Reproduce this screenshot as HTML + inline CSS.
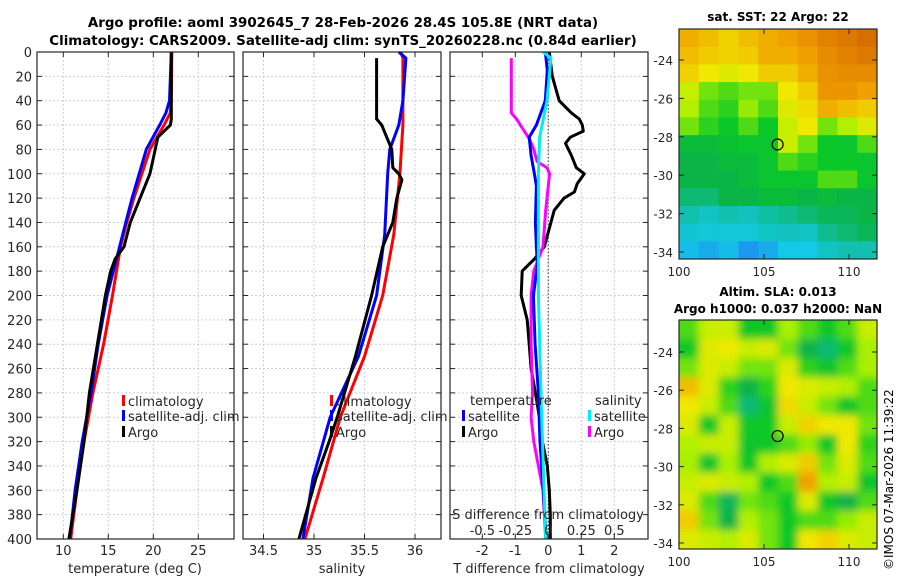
<!DOCTYPE html>
<html><head><meta charset="utf-8"><style>
body{margin:0;background:#fff;}
svg{display:block;font-family:"DejaVu Sans","Liberation Sans",sans-serif;}
</style></head><body>
<svg id="fig" width="900" height="580" viewBox="0 0 900 580">
<defs><filter id="blur" x="0" y="0" width="1" height="1"><feGaussianBlur stdDeviation="4"/></filter>
<clipPath id="clipA"><rect x="679" y="29" width="198" height="230"/></clipPath>
<clipPath id="clipB"><rect x="679" y="320" width="198" height="229"/></clipPath></defs>
<text x="343" y="27" text-anchor="middle" font-size="13.4" font-weight="bold">Argo profile: aoml 3902645_7 28-Feb-2026 28.4S 105.8E (NRT data)</text>
<text x="343" y="45" text-anchor="middle" font-size="13.4" font-weight="bold">Climatology: CARS2009. Satellite-adj clim: synTS_20260228.nc (0.84d earlier)</text>
<text x="778" y="21" text-anchor="middle" font-size="12" font-weight="bold">sat. SST: 22 Argo: 22</text>
<text x="778" y="296" text-anchor="middle" font-size="12" font-weight="bold">Altim. SLA: 0.013</text>
<text x="778" y="313" text-anchor="middle" font-size="12" font-weight="bold">Argo h1000: 0.037 h2000: NaN</text>
<text transform="translate(893,570) rotate(-90)" font-size="12">©IMOS 07-Mar-2026 11:39:22</text>
<g id="content"></g>
</svg>
<script>
// ---- data ----
const depthTicks=[0,20,40,60,80,100,120,140,160,180,200,220,240,260,280,300,320,340,360,380,400];
const tTicks=[10,15,20,25];
const sTicks=[34.5,35,35.5,36];
const dTTicks=[-2,-1,0,1,2];
const dSTicks=[-0.5,-0.25,0,0.25,0.5];
const dSTickLabels=["-0.5","-0.25","0","0.25","0.5"];
const tClimDepth=[0,40,50,60,80,100,120,140,160,200,240,280,320,360,400];
const tClim=[22.05,22.0,21.89,21.2,19.62,18.73,17.84,17.05,16.36,15.47,14.48,13.29,12.3,11.51,10.82];
const tSatDepth=[0,40,50,60,80,100,120,140,160,200,240,280,320,360,400];
const tSat=[22.0,21.8,21.4,20.71,19.22,18.43,17.64,16.95,16.26,14.87,13.88,13.09,12.1,11.31,10.72];
const tArgoDepth=[0,55,60,70,80,90,100,120,140,160,170,180,200,240,280,320,360,400];
const tArgo=[22.0,22.0,21.9,20.51,20.21,19.92,19.62,18.53,17.44,16.75,15.76,15.27,14.68,13.79,12.9,12.3,11.51,10.62];
const sClimDepth=[0,5,60,100,150,200,250,300,350,400];
const sClim=[35.86,35.88,35.88,35.85,35.79,35.68,35.5,35.26,35.09,34.91];
const sSatDepth=[0,5,40,60,80,100,150,200,250,300,350,400];
const sSat=[35.84,35.91,35.88,35.84,35.75,35.73,35.7,35.62,35.44,35.16,34.99,34.89];
const sArgoDepth=[5,55,60,70,80,95,100,105,120,140,160,200,250,300,320,350,400];
const sArgo=[35.62,35.62,35.67,35.72,35.77,35.78,35.84,35.87,35.82,35.78,35.68,35.57,35.41,35.23,35.15,35.02,34.85];
const dTArgoDepth=[0,20,40,50,55,60,65,70,75,85,95,100,108,115,120,130,145,160,170,180,200,220,240,260,280,300,320,340,360,380,400];
const dTArgo=[0.03,0.12,0.33,0.7,0.94,1.03,1.06,0.67,0.52,0.7,0.85,1.09,0.88,0.79,0.48,0.18,0.03,-0.12,-0.42,-0.79,-0.82,-0.64,-0.58,-0.52,-0.39,-0.27,-0.18,-0.03,0.03,0.06,0.06];
const dTSatDepth=[0,15,40,60,70,85,100,110,140,160,175,200,240,280,320,360,400];
const dTSat=[-0.09,-0.03,-0.09,-0.36,-0.58,-0.52,-0.42,-0.36,-0.39,-0.36,-0.33,-0.45,-0.4,-0.3,-0.25,-0.15,-0.06];
const dSArgoDepth=[5,50,55,62,72,80,90,95,100,110,130,160,180,200,240,280,300,320,360,400];
const dSArgo=[-0.28,-0.28,-0.24,-0.2,-0.14,-0.11,-0.085,-0.01,0.01,0,-0.02,-0.04,-0.11,-0.13,-0.13,-0.12,-0.13,-0.11,-0.04,-0.02];
const dSSatDepth=[0,5,40,70,100,200,300,400];
const dSSat=[-0.04,0.02,-0.01,-0.065,-0.075,-0.075,-0.05,-0.02];
const sstGrid=[
[.8,.78,.75,.78,.8,.82,.85,.88,.9,.92],
[.78,.76,.75,.76,.8,.8,.82,.86,.88,.9],
[.75,.72,.7,.72,.76,.76,.8,.85,.86,.86],
[.68,.62,.6,.62,.62,.72,.76,.84,.84,.82],
[.66,.6,.58,.64,.6,.7,.74,.8,.78,.76],
[.62,.58,.56,.6,.56,.68,.72,.62,.66,.7],
[.52,.52,.54,.55,.55,.68,.62,.56,.55,.6],
[.5,.5,.52,.52,.55,.6,.58,.56,.56,.55],
[.5,.5,.5,.52,.55,.55,.55,.6,.6,.55],
[.45,.45,.5,.5,.52,.52,.5,.52,.5,.5],
[.38,.35,.38,.36,.4,.42,.45,.48,.48,.5],
[.33,.32,.32,.32,.35,.36,.35,.42,.45,.48],
[.28,.25,.28,.22,.25,.3,.3,.35,.38,.38]];
const slaGrid=[
[.6,.68,.68,.56,.56,.65,.6,.56,.6,.68],
[.56,.7,.72,.68,.7,.62,.5,.45,.56,.65],
[.62,.7,.68,.62,.62,.7,.58,.55,.6,.65],
[.78,.7,.58,.5,.58,.72,.7,.68,.66,.6],
[.72,.68,.6,.45,.55,.74,.68,.62,.56,.6],
[.7,.56,.68,.56,.56,.68,.75,.72,.72,.62],
[.66,.68,.68,.55,.56,.6,.64,.56,.72,.58],
[.65,.55,.65,.56,.66,.7,.76,.62,.7,.6],
[.68,.7,.68,.66,.56,.6,.82,.66,.68,.55],
[.7,.6,.48,.62,.6,.56,.7,.56,.5,.6],
[.76,.62,.5,.66,.62,.56,.6,.6,.64,.68],
[.7,.68,.66,.7,.62,.56,.72,.75,.7,.68]];
const latTicks=[-24,-26,-28,-30,-32,-34];
const lonTicks=[100,105,110];
const argoLon=105.8, argoLat=-28.4;

// ---- scales ----
const Y0=52,Y1=539;
const yD=d=>Y0+(d/400)*(Y1-Y0);
const xT=t=>63.3+(t-10)*9;
const xS=s=>314+(s-35)*101;
const xDT=v=>548.3+v*33;
const xDS=v=>548.3+v*132;
const mapX=lon=>679+(lon-100)*17;
const mapYA=lat=>60+(-24-lat)*19.2;
const mapYB=lat=>352+(-24-lat)*19.1;

const NS='http://www.w3.org/2000/svg';
const root=document.getElementById('content');
function mk(tag,attrs,parent){const e=document.createElementNS(NS,tag);for(const k in attrs)e.setAttribute(k,attrs[k]);(parent||root).appendChild(e);return e;}
function txt(x,y,s,size,anchor,parent){const e=mk('text',{x:x,y:y,'font-size':size,'text-anchor':anchor||'middle',fill:'#262626'},parent);e.textContent=s;return e;}

function panel(name){
  const g=mk('g',{});
  
  
  return g;
}
function grid(g,x0,x1,xs){
  depthTicks.forEach(d=>{mk('line',{x1:x0,x2:x1,y1:yD(d),y2:yD(d),stroke:'#c8cde8','stroke-width':1,'stroke-dasharray':'2,2'},g);
    mk('line',{x1:x0,x2:x0+5,y1:yD(d),y2:yD(d),stroke:'#262626'},g);mk('line',{x1:x1-5,x2:x1,y1:yD(d),y2:yD(d),stroke:'#262626'},g);});
  xs.forEach(x=>{mk('line',{x1:x,x2:x,y1:Y0,y2:Y1,stroke:'#c8cde8','stroke-width':1,'stroke-dasharray':'2,2'},g);
    mk('line',{x1:x,x2:x,y1:Y0,y2:Y0+5,stroke:'#262626'},g);mk('line',{x1:x,x2:x,y1:Y1-5,y2:Y1,stroke:'#262626'},g);});
}
function frame(g,x0,x1){mk('rect',{x:x0,y:Y0,width:x1-x0,height:Y1-Y0,fill:'none',stroke:'#262626','stroke-width':1.2},g);}
function line(g,vals,depths,sx,color,name,w){
  const pts=vals.map((v,i)=>sx(v).toFixed(1)+','+yD(depths[i]).toFixed(1)).join(' ');
  const p=mk('polyline',{points:pts,fill:'none',stroke:color,'stroke-width':w||3,'stroke-linejoin':'round'},g);
  
  
}
function legend(g,x,y,color,label){
  mk('rect',{x:x,y:y-11,width:3,height:11,fill:color},g);
  txt(x+6,y,label,13,'start',g);
}

// panel 1
const g1=panel('temperature-panel');
grid(g1,37,234,tTicks.map(xT));
line(g1,tClim,tClimDepth,xT,'#ff0000','temperature-climatology-line');
line(g1,tSat,tSatDepth,xT,'#0000ff','temperature-satellite-line');
line(g1,tArgo,tArgoDepth,xT,'#000000','temperature-argo-line');
frame(g1,37,234);
depthTicks.forEach(d=>txt(32,yD(d)+5,String(d),13,'end',g1));
tTicks.forEach(t=>txt(xT(t),555,String(t),13,'middle',g1));
txt(135,573,'temperature (deg C)',13,'middle',g1);
legend(g1,122,406,'#ff0000','climatology');
legend(g1,122,421,'#0000ff','satellite-adj. clim');
legend(g1,122,437,'#000000','Argo');

// panel 2
const g2=panel('salinity-panel');
grid(g2,243,441,sTicks.map(xS));
line(g2,sClim,sClimDepth,xS,'#ff0000','salinity-climatology-line');
line(g2,sSat,sSatDepth,xS,'#0000ff','salinity-satellite-line');
line(g2,sArgo,sArgoDepth,xS,'#000000','salinity-argo-line');
frame(g2,243,441);
sTicks.forEach(t=>txt(xS(t),555,String(t),13,'middle',g2));
txt(342,573,'salinity',13,'middle',g2);
legend(g2,330,406,'#ff0000','climatology');
legend(g2,330,421,'#0000ff','satellite-adj. clim');
legend(g2,330,437,'#000000','Argo');

// panel 3
const g3=panel('difference-panel');
grid(g3,450,648,dTTicks.map(xDT));
mk('line',{x1:xDT(0),x2:xDT(0),y1:Y0,y2:Y1,stroke:'#555','stroke-width':1.2,'stroke-dasharray':'1.5,2'},g3);
line(g3,dTArgo,dTArgoDepth,xDT,'#000000','t-diff-argo-line');
line(g3,dSArgo,dSArgoDepth,xDS,'#ff00ff','s-diff-argo-line');
line(g3,dTSat,dTSatDepth,xDT,'#0000ff','t-diff-satellite-line');
line(g3,dSSat,dSSatDepth,xDS,'#00eeee','s-diff-satellite-line');
frame(g3,450,648);
dTTicks.forEach(t=>txt(xDT(t),555,String(t),13,'middle',g3));
txt(549,573,'T difference from climatology',13,'middle',g3);
txt(548,519,'S difference from climatology',13,'middle',g3);
dSTicks.forEach((t,i)=>txt(xDS(t),535,dSTickLabels[i],13,'middle',g3));
txt(470,405,'temperature',13,'start',g3);
legend(g3,462,421,'#0000ff','satellite');
legend(g3,462,437,'#000000','Argo');
txt(595,405,'salinity',13,'start',g3);
legend(g3,588,421,'#00eeee','satellite');
legend(g3,588,437,'#ff00ff','Argo');

// colormap
const cmStops=[[0.2,[30,140,240]],[0.3,[20,200,230]],[0.4,[16,190,160]],[0.5,[10,180,70]],[0.56,[10,200,40]],[0.65,[168,240,0]],[0.72,[240,232,0]],[0.82,[240,160,0]],[0.95,[208,96,0]]];
function cmap(v){
  if(v<=cmStops[0][0])return 'rgb('+cmStops[0][1]+')';
  for(let i=1;i<cmStops.length;i++){if(v<=cmStops[i][0]){const a=cmStops[i-1],b=cmStops[i],f=(v-a[0])/(b[0]-a[0]);
    return 'rgb('+a[1].map((c,k)=>Math.round(c+(b[1][k]-c)*f)).join(',')+')';}}
  return 'rgb('+cmStops[cmStops.length-1][1]+')';
}
function mapPanel(gridData,top,h,clip,blur,name,yf){
  const g=mk('g',{});
  
  
  const cells=mk('g',{'clip-path':'url(#'+clip+')'},g);
  const inner=mk('g',blur?{filter:'url(#blur)'}:{},cells);
  const rows=gridData.length,cols=gridData[0].length,cw=198/cols,ch=h/rows;
  const pad=blur?12:0;
  gridData.forEach((r,i)=>r.forEach((v,j)=>{
    let x=679+j*cw,y=top+i*ch,w=cw+0.6,hh=ch+0.6;
    if(blur){if(j==0){x-=pad;w+=pad;}if(j==cols-1)w+=pad;if(i==0){y-=pad;hh+=pad;}if(i==rows-1)hh+=pad;}
    const c=mk('rect',{x:x,y:y,width:w,height:hh,fill:cmap(v)},inner);
    
    
  }));
  mk('rect',{x:679,y:top,width:198,height:h,fill:'none',stroke:'#262626','stroke-width':1.2},g);
  latTicks.forEach(l=>{const y=yf(l);mk('line',{x1:679,x2:684,y1:y,y2:y,stroke:'#262626'},g);mk('line',{x1:872,x2:877,y1:y,y2:y,stroke:'#262626'},g);
    txt(673,y+5,String(l),12,'end',g);});
  lonTicks.forEach(l=>{const x=mapX(l);mk('line',{x1:x,x2:x,y1:top+h-5,y2:top+h,stroke:'#262626'},g);mk('line',{x1:x,x2:x,y1:top,y2:top+5,stroke:'#262626'},g);
    txt(x,top+h+17,String(l),12,'middle',g);});
  const c=mk('circle',{cx:mapX(argoLon),cy:yf(argoLat),r:5.5,fill:'none',stroke:'#000','stroke-width':1.2},g);
  
  
}
mapPanel(sstGrid,29,230,'clipA',false,'sst-map',mapYA);
mapPanel(slaGrid,320,229,'clipB',true,'sla-map',mapYB);
</script>
</body></html>
